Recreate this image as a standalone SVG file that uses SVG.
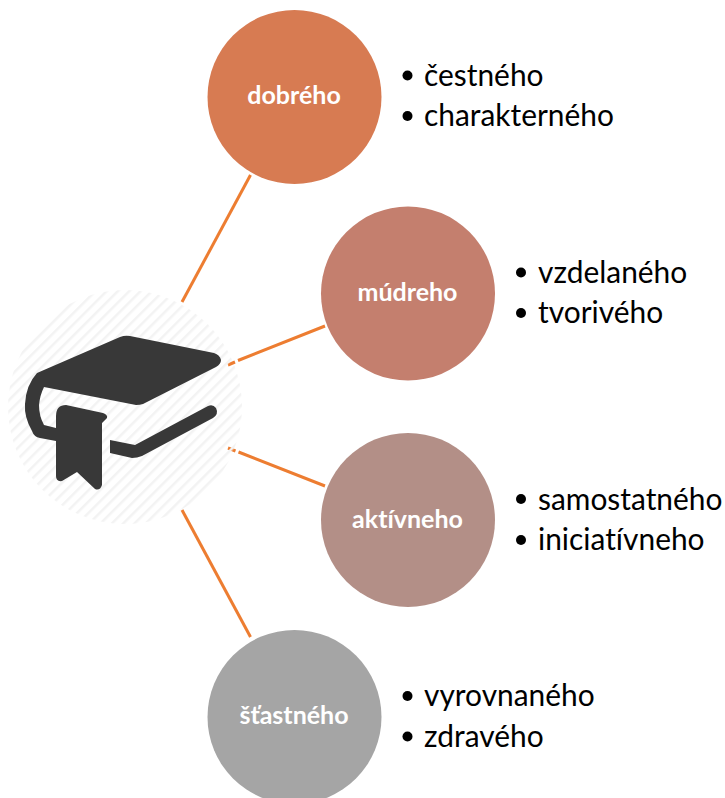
<svg xmlns="http://www.w3.org/2000/svg" width="725" height="798" viewBox="0 0 725 798">
<style>
.t{font-family:Lato,"Liberation Sans",sans-serif;font-size:29.9px;fill:#000;font-variant-ligatures:none}
.h{font-family:Lato,"Liberation Sans",sans-serif;font-size:25px;font-weight:700;fill:#fff;text-anchor:middle;font-variant-ligatures:none}
.c{fill:none;stroke:#ed7d31;stroke-width:3}
.b{fill:#000}
.k{fill:#383838}
</style>
<defs>
<pattern id="hatch" width="8" height="8" patternUnits="userSpaceOnUse" patternTransform="rotate(-45)"><rect width="8" height="2.500" fill="#f3f3f3"/></pattern>
</defs>
<g id="connectors">
<path class="c" d="M250.500 175L182 302"/>
<path class="c" d="M325 326L238 360.500M235 362L228 365"/>
<path class="c" d="M325 486L238.500 452M235.500 451L228 448"/>
<path class="c" d="M182 510L250.500 637"/>
</g>
<g id="book">
<circle cx="125" cy="407" r="117" fill="url(#hatch)"/>
<path class="k" d="M120 337Q125 335 130 336L214 353Q220 355 221 360Q221 364 216 367L143 404Q140 405 136 405L44 387Q40 395 39 405Q39 416 44 425L56 428V441L40 438Q34 437 32 431Q24 417 25 404Q26 385 37 373Z"/>
<path class="k" d="M56 416Q56 405 66 405L103 413Q108 415 107 418L102 423V485Q100 491 95 489L77 472L62 481Q56 482 56 476Z"/>
<path class="k" d="M110 440L135 445L208 406Q213 404 216 408Q219 414 213 418L142 456Q137 458 132 458L110 453Z"/>
</g>
<g id="node1">
<circle cx="294.500" cy="97" r="87" fill="#d77b52"/>
<text class="h" x="294" y="104">dobrého</text>
<circle class="b" cx="407.500" cy="75.500" r="5"/><text class="t" x="424" y="85.500">čestného</text>
<circle class="b" cx="407.500" cy="116" r="5"/><text class="t" x="424" y="126">charakterného</text>
</g>
<g id="node2">
<circle cx="408" cy="293.500" r="87" fill="#c47f6e"/>
<text class="h" x="407.500" y="300.500">múdreho</text>
<circle class="b" cx="521" cy="272.500" r="5"/><text class="t" x="538" y="282.500">vzdelaného</text>
<circle class="b" cx="521" cy="313" r="5"/><text class="t" x="538" y="323">tvorivého</text>
</g>
<g id="node3">
<circle cx="408" cy="520" r="87" fill="#b38f87"/>
<text class="h" x="407.500" y="527.500">aktívneho</text>
<circle class="b" cx="521" cy="499" r="5"/><text class="t" x="538" y="509.500">samostatného</text>
<circle class="b" cx="521" cy="540" r="5"/><text class="t" x="538" y="550">iniciatívneho</text>
</g>
<g id="node4">
<circle cx="294.500" cy="717" r="87" fill="#a5a5a5"/>
<text class="h" x="294" y="724">šťastného</text>
<circle class="b" cx="407.500" cy="696" r="5"/><text class="t" x="424" y="706">vyrovnaného</text>
<circle class="b" cx="407.500" cy="736.500" r="5"/><text class="t" x="424" y="746.500">zdravého</text>
</g>
</svg>
